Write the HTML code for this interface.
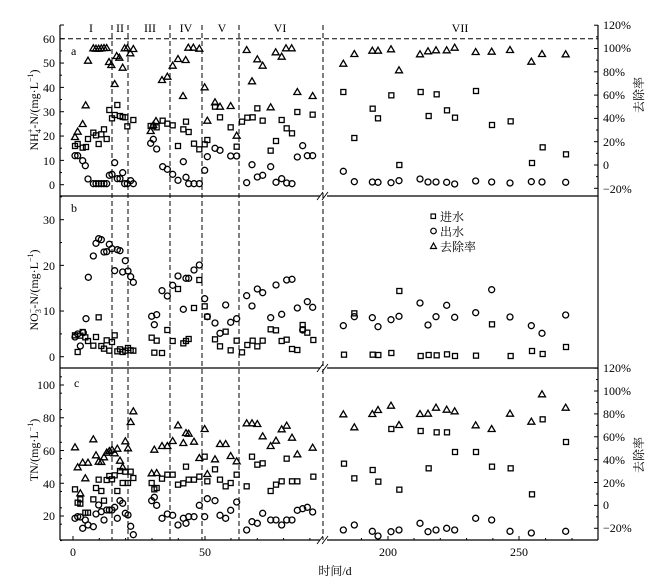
<!DOCTYPE html>
<html><head><meta charset="utf-8"><style>
body{margin:0;background:#fff}
svg{display:block;font-family:"Liberation Serif","Noto Serif CJK SC",serif;font-size:12px}
</style></head><body>
<svg id="s" width="669" height="587" viewBox="0 0 669 587" xmlns="http://www.w3.org/2000/svg">
<g stroke="#000" stroke-width="1.2" fill="none">
<line x1="60" y1="25" x2="60" y2="540"/>
<line x1="598" y1="25" x2="598" y2="540"/>
<line x1="60" y1="196" x2="320" y2="196"/><line x1="327" y1="196" x2="598" y2="196"/>
<line x1="60" y1="368" x2="320" y2="368"/><line x1="327" y1="368" x2="598" y2="368"/>
<line x1="60" y1="540" x2="320" y2="540"/><line x1="327" y1="540" x2="598" y2="540"/>
<path d="M317 200 L323 192 M322 200 L328 192 M317 372 L323 364 M322 372 L328 364 M317 544 L323 536 M322 544 L328 536" stroke-width="0.9"/>
</g>
<g stroke="#000" stroke-width="1" stroke-dasharray="5,3">
<line x1="60" y1="38.7" x2="598" y2="38.7"/>
<line x1="112" y1="25" x2="112" y2="540"/><line x1="128" y1="25" x2="128" y2="540"/>
<line x1="170" y1="25" x2="170" y2="540"/><line x1="202" y1="25" x2="202" y2="540"/>
<line x1="239" y1="25" x2="239" y2="540"/><line x1="323" y1="25" x2="323" y2="540"/>
</g>
<g id="ticks" stroke="#000" stroke-width="1"></g>
<g font-size="12">
<text x="91" y="32" text-anchor="middle">I</text><text x="120" y="32" text-anchor="middle">II</text>
<text x="150" y="32" text-anchor="middle">III</text><text x="186" y="32" text-anchor="middle">IV</text>
<text x="222" y="32" text-anchor="middle">V</text><text x="280" y="32" text-anchor="middle">VI</text>
<text x="460" y="32" text-anchor="middle">VII</text>
<text x="71" y="55">a</text><text x="71" y="212">b</text><text x="74" y="387">c</text>
</g>
<g text-anchor="end" font-size="12">
<text x="55" y="189">0</text><text x="55" y="165">10</text><text x="55" y="140">20</text><text x="55" y="116">30</text><text x="55" y="92">40</text><text x="55" y="67">50</text><text x="55" y="43">60</text>
<text x="55" y="361">0</text><text x="55" y="315">10</text><text x="55" y="270">20</text><text x="55" y="224">30</text>
<text x="55" y="520">20</text><text x="55" y="488">40</text><text x="55" y="455">60</text><text x="55" y="422">80</text><text x="55" y="389">100</text>
</g>
<g font-size="12">
<text x="603" y="29">120%</text><text x="603" y="52">100%</text><text x="603" y="76">80%</text><text x="603" y="99">60%</text><text x="603" y="122">40%</text><text x="603" y="146">20%</text><text x="603" y="169">0</text><text x="603" y="193">−20%</text>
<text x="603" y="372">120%</text><text x="603" y="395">100%</text><text x="603" y="418">80%</text><text x="603" y="441">60%</text><text x="603" y="464">40%</text><text x="603" y="487">20%</text><text x="603" y="509">0</text><text x="603" y="532">−20%</text>
</g>
<g text-anchor="middle" font-size="12">
<text x="73" y="556">0</text><text x="205" y="556">50</text><text x="388" y="556">200</text><text x="519" y="556">250</text>
<text x="335" y="575">时间/d</text>
</g>
<text transform="translate(38,110) rotate(-90)" text-anchor="middle">NH<tspan font-size="8" dy="3">4</tspan><tspan font-size="8" dy="-8" dx="-4">+</tspan><tspan dy="5">-N/(mg·L</tspan><tspan font-size="8" dy="-5">−1</tspan><tspan dy="5">)</tspan></text>
<text transform="translate(38,290) rotate(-90)" text-anchor="middle">NO<tspan font-size="8" dy="3">3</tspan><tspan font-size="8" dy="-8" dx="-4">−</tspan><tspan dy="5">-N/(mg·L</tspan><tspan font-size="8" dy="-5">−1</tspan><tspan dy="5">)</tspan></text>
<text transform="translate(38,450) rotate(-90)" text-anchor="middle">TN/(mg·L<tspan font-size="8" dy="-5">−1</tspan><tspan dy="5">)</tspan></text>
<text transform="translate(643,95) rotate(-90)" text-anchor="middle">去除率</text>
<text transform="translate(643,455) rotate(-90)" text-anchor="middle">去除率</text>
<g font-size="12">
<rect x="431" y="214" width="4.5" height="4.5" fill="none" stroke="#000" stroke-width="1.2"/><text x="440" y="221">进水</text>
<circle cx="433.5" cy="231" r="2.8" fill="none" stroke="#000" stroke-width="1.2"/><text x="440" y="236">出水</text>
<path d="M430.5 248.5 L436.5 248.5 L433.5 243 Z" fill="none" stroke="#000" stroke-width="1.2"/><text x="440" y="251">去除率</text>
</g>
<g id="m" fill="none" stroke="#000" stroke-width="1.3"></g>
</svg>
<script>
var NS="http://www.w3.org/2000/svg",m=document.getElementById('m'),tk=document.getElementById('ticks');
function el(n,a,p){var e=document.createElementNS(NS,n);for(var k in a)e.setAttribute(k,a[k]);(p||m).appendChild(e);}
function sq(x,y){el('rect',{x:x-2.5,y:y-2.5,width:5,height:5});}
function ci(x,y){el('circle',{cx:x,cy:y,r:3});}
function tr(x,y){el('path',{d:'M'+(x-3.5)+' '+(y+2.5)+' L'+(x+3.5)+' '+(y+2.5)+' L'+x+' '+(y-3.5)+' Z'});}
function plot(arr,ox,oy,f){for(var i=0;i<arr.length;i+=2)f(ox+arr[i]/3,oy+arr[i+1]/3);}
// panel a left
plot([225,411,233,395,248,372,257,316,264,182,280,145,288,146,296,146,304,145,312,144,320,144,327,186,334,195,344,252,350,168,358,173,368,203,374,145,382,145,391,160,400,147,452,393,460,375,468,363,486,240,502,230,518,197,534,177,557,180,549,288,565,143,580,143,598,146,614,262,622,362,645,307,660,320,692,318,710,407,740,150,756,244,772,178,788,197,812,322,827,157,845,170,858,145,875,145,892,276,938,288],0,0,tr);
plot([225,438,233,432,248,443,258,441,264,417,280,398,288,406,296,432,304,403,312,388,320,417,328,330,336,355,344,345,352,315,360,348,368,351,376,352,382,379,400,360,452,378,460,378,470,382,488,362,502,371,518,376,534,438,550,388,558,365,566,396,582,431,598,448,614,433,622,420,645,320,660,352,692,382,710,440,726,365,742,353,758,352,772,325,788,362,812,452,828,423,845,360,860,385,876,400,892,336,938,344],0,0,sq);
plot([225,467,233,467,248,482,256,497,264,537,280,551,288,551,296,551,304,551,312,551,320,551,328,526,336,523,344,488,352,536,360,536,368,518,374,551,382,551,392,542,400,551,452,430,460,418,470,447,488,500,502,508,518,523,534,541,550,485,558,532,566,551,582,551,598,551,614,511,622,470,645,445,660,451,692,468,710,468,740,548,756,494,772,531,788,526,812,500,828,547,845,536,860,549,876,551,892,471,908,437,922,467,938,467],0,0,ci);
// panel b left
plot([225,441,233,432,241,468,250,428,258,386,265,262,280,198,288,160,296,146,304,149,312,186,320,185,328,163,336,176,344,242,352,179,360,182,368,246,376,212,384,243,392,260,400,277,455,379,463,404,470,374,486,302,502,318,518,286,534,258,550,358,558,265,566,265,582,240,598,225,614,326,622,380,645,399,660,430,677,345,692,397,710,386,740,317,756,348,772,297,788,308,812,383,828,285,845,373,860,270,876,268,892,354,908,420,922,335,938,352],0,190,ci);
plot([225,436,233,486,241,437,248,426,256,442,264,453,280,467,288,441,296,382,304,468,312,476,320,451,328,482,336,456,344,436,352,484,360,478,368,486,376,482,384,474,392,481,400,482,455,443,463,488,470,452,486,489,502,420,518,453,534,297,550,460,558,453,566,447,582,354,598,270,614,349,622,380,645,448,660,469,677,425,692,481,710,452,726,487,742,465,758,452,772,469,788,452,812,418,828,421,845,453,860,449,876,477,892,480,908,405,908,418,922,428,940,450],0,190,sq);
// panel c left
plot([225,232,233,292,241,370,248,278,256,325,264,278,280,208,288,256,296,275,304,276,312,262,320,248,328,243,336,239,344,250,352,236,360,272,368,292,376,214,384,235,392,156,400,124,455,310,463,239,470,309,486,228,502,228,518,213,534,166,550,219,558,189,566,191,582,215,598,264,614,177,622,312,645,268,660,222,677,222,692,258,710,274,740,160,756,160,772,162,788,199,812,228,828,212,845,178,860,167,876,203,892,253,938,233],0,370,tr);
plot([225,358,233,398,241,388,241,401,256,428,264,428,280,388,288,354,296,329,304,363,312,392,320,330,328,318,336,328,344,316,352,363,360,303,368,339,376,305,384,339,392,305,400,324,455,339,463,358,470,354,486,326,502,314,518,314,534,344,550,340,558,290,566,329,582,329,598,320,614,260,622,334,645,298,660,329,677,349,692,339,710,314,740,349,756,260,772,284,788,280,812,363,828,344,845,334,860,266,876,334,892,334,940,320],0,370,sq);
plot([225,445,233,440,241,441,248,475,256,450,264,465,280,470,288,432,296,405,304,425,312,450,320,420,328,420,336,420,344,412,352,445,360,392,368,400,376,430,384,435,392,469,400,494,455,392,463,382,470,406,486,445,502,432,518,436,534,465,550,445,558,460,566,440,582,440,598,406,614,440,622,386,645,392,660,436,677,445,692,421,710,396,740,480,756,455,772,460,788,430,812,450,828,450,845,465,860,450,876,450,892,421,908,416,922,412,938,426],0,370,ci);
// right side
plot([70,191,103,162,157,152,174,152,213,148,237,211,300,163,324,154,348,151,380,151,404,143,467,156,515,155,570,150,634,185,666,162,737,163],320,0,tr);
plot([70,276,103,414,158,326,174,355,214,286,238,495,302,276,326,348,350,283,381,331,405,353,468,273,516,375,572,364,636,489,668,442,738,463],320,0,sq);
plot([70,514,103,545,157,546,174,547,213,548,237,542,300,537,324,546,348,546,380,547,404,552,467,543,515,546,570,549,634,545,666,546,737,547],320,0,ci);
plot([70,407,103,380,157,383,174,410,213,389,237,379,300,339,324,405,348,380,380,346,404,382,467,368,515,299,570,381,634,407,666,430,737,375],320,190,ci);
plot([72,494,103,370,158,494,175,495,214,489,238,303,302,498,326,495,350,496,381,493,405,498,468,497,516,403,572,498,636,483,668,492,738,471],320,190,sq);
plot([70,133,103,172,157,132,174,120,213,107,237,165,300,132,324,131,348,113,380,119,404,124,467,166,515,177,570,131,634,155,666,73,737,113],320,370,tr);
plot([72,281,103,325,158,300,175,335,214,177,238,359,302,183,326,295,350,187,381,187,405,246,468,246,516,290,572,295,636,373,668,148,738,216],320,370,sq);
plot([70,480,103,465,157,484,174,498,213,485,237,480,300,460,324,485,348,480,380,475,404,480,467,445,515,450,570,484,634,489,737,484],320,370,ci);
// ticks
function ly(y,l){el('line',{x1:60,y1:y,x2:60+l,y2:y},tk);}
function ry(y,l){el('line',{x1:598,y1:y,x2:598-l,y2:y},tk);}
ly(25,4);for(var v=0;v<=60;v+=5)ly(184.7-2.433*v,v%10?2:4);
for(v=0;v<=35;v+=5)ly(356.7-4.567*v,v%10?2:4);
for(v=5;v<=110;v+=10)ly(516-1.6375*(v-20),2);for(v=20;v<=100;v+=20)ly(516-1.6375*(v-20),4);
for(v=-20;v<=120;v+=10)ry(165-1.165*v,v%20?2:4);
for(v=-20;v<=120;v+=10)ry(505.4-1.144*v,v%20?2:4);
[73,205,388,519].forEach(function(x){el('line',{x1:x,y1:540,x2:x,y2:536},tk);});
[99.3,125.6,152,178.3,231,257.3,283.6,309.9,361.4,414,440.3,466.6,492.9,545.6,572].forEach(function(x){el('line',{x1:x,y1:540,x2:x,y2:538},tk);});
</script>
</body></html>
